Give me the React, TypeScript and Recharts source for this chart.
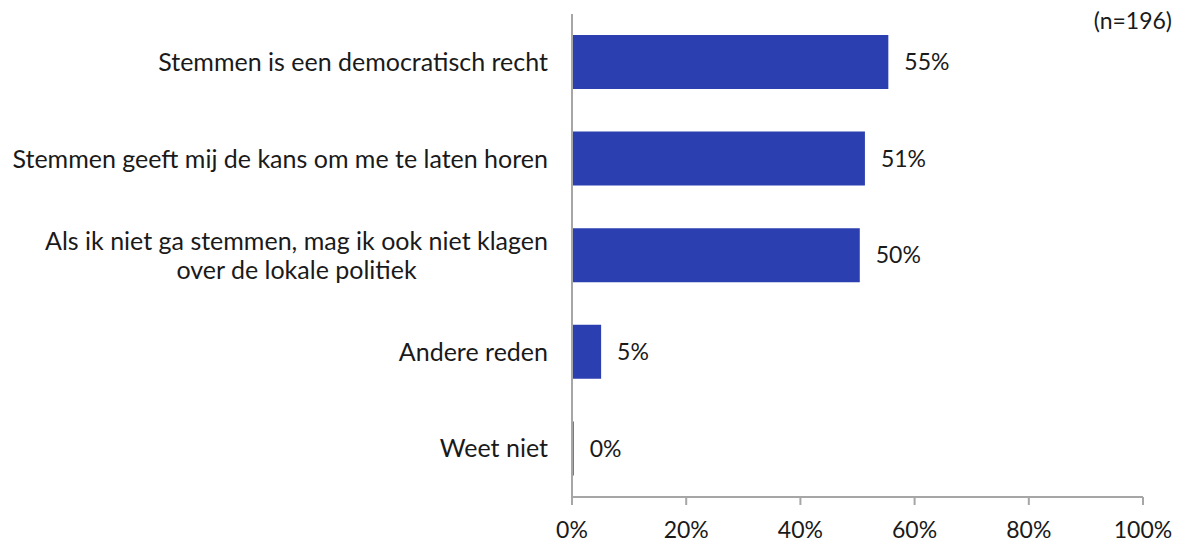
import React from "react";
import { BarChart, Bar, XAxis, YAxis, LabelList } from "recharts";

const categories = [
  "Stemmen is een democratisch recht",
  "Stemmen geeft mij de kans om me te laten horen",
  "Als ik niet ga stemmen, mag ik ook niet klagen\nover de lokale politiek",
  "Andere reden",
  "Weet niet",
];
const values = [55.4, 51.3, 50.4, 5.1, 0.3];
const xTicks = [0, 20, 40, 60, 80, 100];
const note = "(n=196)";

const data = categories.map((name, i) => ({ name, value: values[i] }));

const FONT = "Lato, 'Open Sans', sans-serif";
const FS = 25;
const NFS = 23;
const TEXT = "#1a1a1a";
const AXIS = "#A6A6A6";
const BAR = "#2B3FB0";

let ctx: CanvasRenderingContext2D | null = null;
function measure(t: string) {
  if (!ctx) {
    const c = document.createElement("canvas");
    ctx = c.getContext("2d");
  }
  if (!ctx) return t.length * FS * 0.5;
  ctx.font = `${FS}px Lato`;
  return ctx.measureText(t).width;
}

const YTick = (props: any) => {
  const { x, y, payload } = props;
  const lines = String(payload.value).split("\n");
  const gap = 16;
  const lh = 29;
  if (lines.length === 1) {
    return (
      <text x={x - gap} y={y} dy="0.35em" textAnchor="end" fontSize={FS} fontFamily={FONT} fill={TEXT}>
        {lines[0]}
      </text>
    );
  }
  const maxW = Math.max(...lines.map(measure));
  const cx = x - gap - maxW / 2;
  const y0 = y - ((lines.length - 1) * lh) / 2;
  return (
    <text textAnchor="middle" fontSize={FS} fontFamily={FONT} fill={TEXT}>
      {lines.map((l, i) => (
        <tspan key={i} x={cx} y={y0 + i * lh} dy="0.35em">
          {l}
        </tspan>
      ))}
    </text>
  );
};

export default function App() {
  return (
    <div style={{ position: "absolute", left: 0, top: 0, width: 1181, height: 544, background: "#fff" }}>
      <BarChart
        width={1181}
        height={544}
        data={data}
        layout="vertical"
        margin={{ top: 14, right: 38, bottom: 0, left: 0 }}
      >
        <XAxis
          type="number"
          domain={[0, 100]}
          ticks={xTicks}
          tickFormatter={(v: number) => `${v}%`}
          height={47}
          tickSize={8}
          tickMargin={17}
          axisLine={{ stroke: AXIS, strokeWidth: 2 }}
          tickLine={{ stroke: AXIS, strokeWidth: 2 }}
          tick={{ fontSize: NFS, fontFamily: FONT, fill: TEXT }}
          interval={0}
        />
        <YAxis
          type="category"
          dataKey="name"
          width={572}
          axisLine={{ stroke: AXIS, strokeWidth: 2 }}
          tickLine={false}
          tick={<YTick />}
          interval={0}
        />
        <Bar dataKey="value" fill={BAR} barSize={54} isAnimationActive={false}>
          <LabelList
            dataKey="value"
            position="right"
            offset={16}
            formatter={(v: any) => `${Math.round(Number(v))}%`}
            style={{ fontSize: NFS, fontFamily: FONT, fill: TEXT }}
          />
        </Bar>
      </BarChart>
      <div
        style={{
          position: "absolute",
          right: 9,
          top: 6,
          fontSize: NFS,
          fontFamily: FONT,
          color: TEXT,
          lineHeight: "28px",
        }}
      >
        {note}
      </div>
    </div>
  );
}
